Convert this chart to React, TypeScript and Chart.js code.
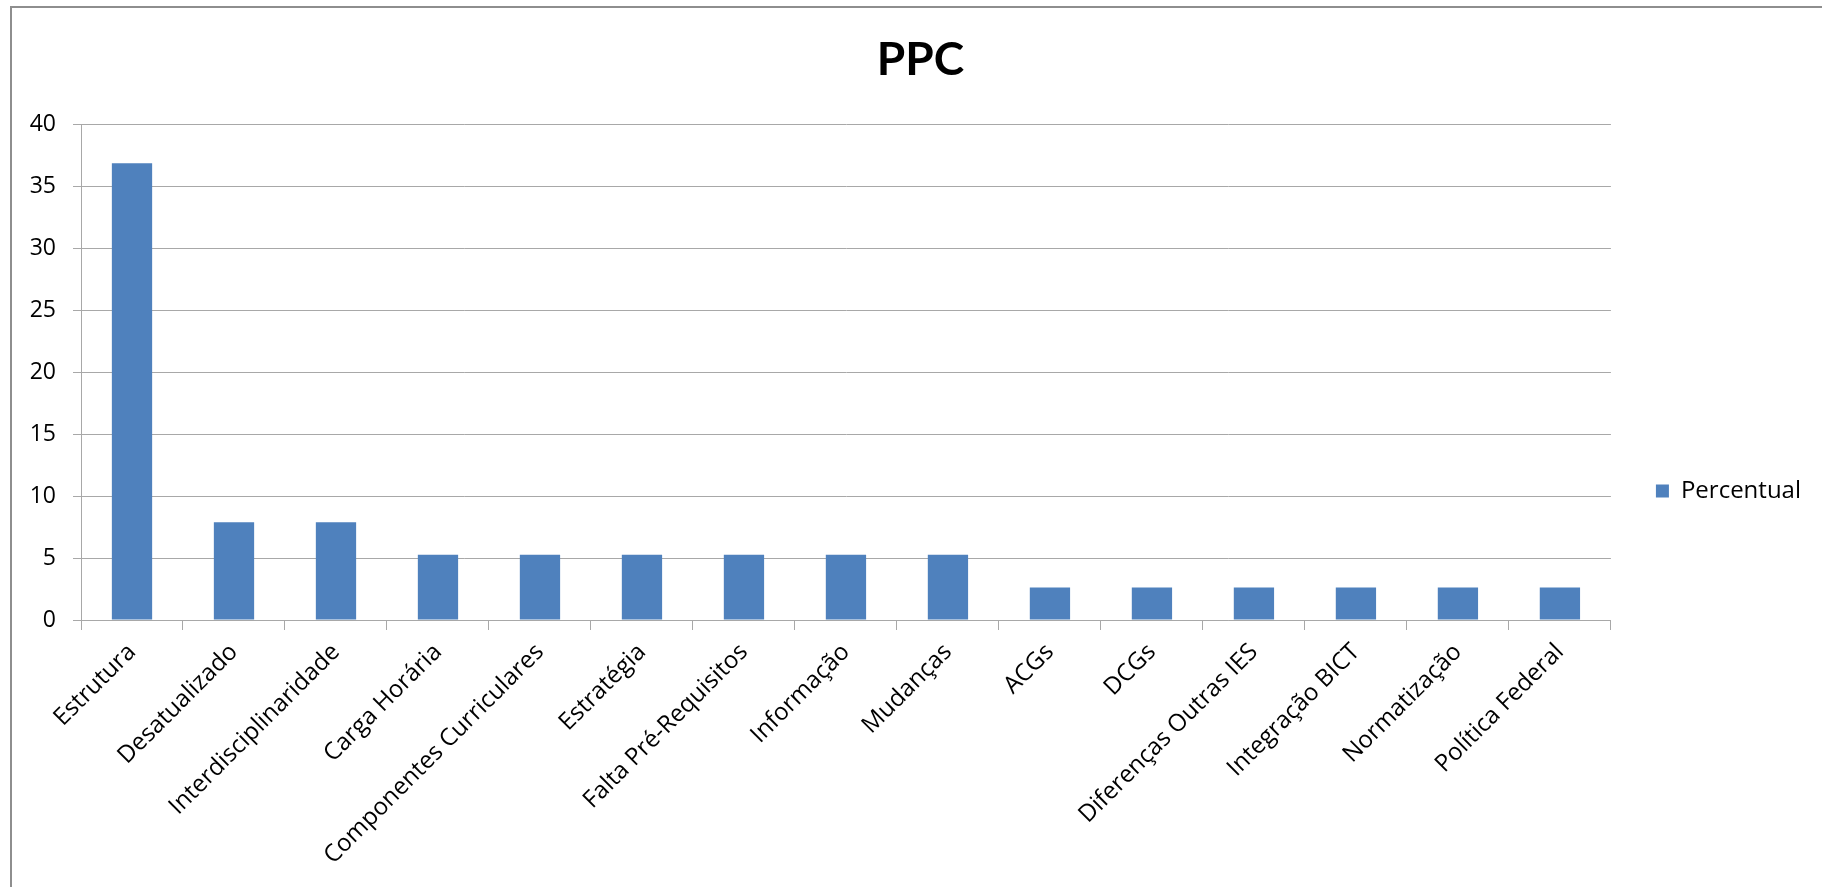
import React, { useEffect, useRef } from "react";
import { Chart, registerables } from "chart.js";

Chart.register(...registerables);

const chartTitle = "PPC";
const seriesLabel = "Percentual";
const categories = [
  "Estrutura",
  "Desatualizado",
  "Interdisciplinaridade",
  "Carga Horária",
  "Componentes Curriculares",
  "Estratégia",
  "Falta Pré-Requisitos",
  "Informação",
  "Mudanças",
  "ACGs",
  "DCGs",
  "Diferenças Outras IES",
  "Integração BICT",
  "Normatização",
  "Política Federal",
];
const percentual = [36.84, 7.89, 7.89, 5.26, 5.26, 5.26, 5.26, 5.26, 5.26, 2.63, 2.63, 2.63, 2.63, 2.63, 2.63];
const yMin = 0;
const yMax = 40;
const yStep = 5;

const FONT = "'Open Sans', Lato, sans-serif";
const TITLE_FONT = "Lato, 'Open Sans', sans-serif";
const W = 1822;
const H = 982;

export default function App() {
  const ref = useRef<HTMLCanvasElement>(null);
  useEffect(() => {
    if (!ref.current) return;
    const chart = new Chart(ref.current, {
      type: "bar",
      data: {
        labels: categories,
        datasets: [
          {
            label: seriesLabel,
            data: percentual,
            backgroundColor: "#4F81BD",
            borderWidth: 0,
            barPercentage: 0.395,
            categoryPercentage: 1,
          },
        ],
      },
      options: {
        responsive: false,
        animation: false,
        devicePixelRatio: 1,
        layout: { padding: { left: 30, right: 11, top: 0, bottom: 0 } },
        plugins: {
          tooltip: { enabled: false },
          title: {
            display: true,
            text: chartTitle,
            color: "#000",
            font: { family: TITLE_FONT, size: 46, weight: "bold", lineHeight: 1.2 },
            padding: { top: 33, bottom: 36 },
          },
          legend: {
            display: true,
            position: "right",
            labels: {
              boxWidth: 13,
              boxHeight: 13,
              padding: 45,
              color: "#000",
              font: { family: FONT, size: 24 },
            },
          },
        },
        scales: {
          x: {
            offset: true,
            grid: {
              display: true,
              drawOnChartArea: false,
              drawTicks: true,
              tickLength: 10,
              offset: true,
              color: "#A8A8A8",
            },
            border: { display: true, color: "#A8A8A8", width: 1 },
            ticks: {
              autoSkip: false,
              maxRotation: 45,
              minRotation: 45,
              padding: 8,
              color: "#000",
              font: { family: FONT, size: 24 },
            },
            afterFit: (s: any) => {
              s.height = H - 620;
            },
          },
          y: {
            min: yMin,
            max: yMax,
            ticks: {
              stepSize: yStep,
              padding: 17,
              color: "#000",
              font: { family: FONT, size: 23 },
            },
            grid: {
              color: "#A8A8A8",
              tickLength: 8,
              drawTicks: true,
            },
            border: { display: true, color: "#A8A8A8", width: 1 },
            afterFit: (s: any) => {
              s.width = 51;
            },
          },
        },
      },
    });
    return () => chart.destroy();
  }, []);

  return (
    <div
      style={{
        position: "fixed",
        left: 0,
        top: 0,
        width: W,
        height: H,
        background: "#fff",
        overflow: "hidden",
      }}
    >
      <canvas ref={ref} width={W} height={H} style={{ position: "absolute", left: 0, top: 0, width: W, height: H }} />
      <div
        style={{
          position: "absolute",
          left: 10,
          top: 6,
          width: 1830,
          height: 966,
          border: "2px solid #8E8E8E",
          pointerEvents: "none",
        }}
      />
    </div>
  );
}
